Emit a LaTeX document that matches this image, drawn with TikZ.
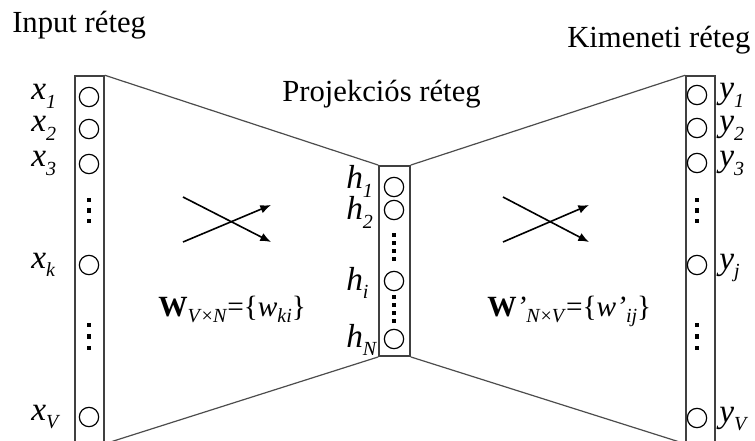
\documentclass[tikz,border=0pt]{standalone}
\usepackage{fontspec}
\setmainfont{Liberation Serif}
\usetikzlibrary{arrows.meta}

% italic label with a lowered italic index
\newcommand{\sublbl}[2]{\textit{#1}\raisebox{-0.25em}{\fontsize{15}{15}\selectfont\textit{#2}}}
\newcommand{\idx}[1]{\raisebox{-0.22em}{\fontsize{15}{15}\selectfont#1}}

\begin{document}
\begin{tikzpicture}[
  x=0.75pt, y=-0.75pt,
  layertitle/.style={font=\fontsize{23}{27}\selectfont, anchor=base west, inner sep=0pt},
  layerbox/.style={draw=black!75, line width=1.4pt, minimum width=21.5pt, inner sep=0pt},
  neuron/.style={draw, circle, line width=0.9pt, minimum size=14.5pt, inner sep=0pt},
  unitlbl/.style={font=\fontsize{25}{28}\selectfont, anchor=base west, inner sep=0pt},
  weight/.style={font=\fontsize{22}{26}\selectfont, anchor=base west, inner sep=0pt},
  layeredge/.style={black!70, line width=0.9pt},
  crossarr/.style={-{Latex[length=8pt,width=6.5pt]}, line width=1.2pt}
]
\clip (0,0) rectangle (755,441);

% Column positions: input at x=89, projection at x=394, output at x=697
\def\colin{89}
\def\colproj{394}
\def\colout{697}

% Layer titles
\node[layertitle] (tin) at (12,33) {Input réteg};
\node[layertitle] (tproj) at (282,102) {Projekciós réteg};
\node[layertitle] (tout) at (567,48) {Kimeneti réteg};

% Layer boxes (input and output run off the bottom)
\node[layerbox, minimum height=275pt] (inlayer) at (89.5,259.5) {};
\node[layerbox, minimum width=23pt, minimum height=142.5pt] (projlayer) at (394.5,261) {};
\node[layerbox, minimum height=275pt] (outlayer) at (700.5,259.5) {};

% Funnel outline between the layers
\draw[layeredge] (inlayer.north east) -- (projlayer.north west);
\draw[layeredge] (inlayer.south east) -- (projlayer.south west);
\draw[layeredge] (projlayer.north east) -- (outlayer.north west);
\draw[layeredge] (projlayer.south east) -- (outlayer.south west);

% Input units
\foreach \nm/\y in {1/97, 2/129, 3/164, k/265, V/417}{
  \node[neuron] (x\nm) at (\colin,\y) {};
  \node[unitlbl] (lx\nm) at (31,\y+3) {\sublbl{x}{\nm}};
}

% Projection units (label baseline offset varies)
\foreach \nm/\y/\dy in {1/187/2, 2/210/10, i/281/9, N/339/8}{
  \node[neuron] (h\nm) at (\colproj,\y) {};
  \node[unitlbl] (lh\nm) at (346,\y+\dy) {\sublbl{h}{\nm}};
}

% Output units
\foreach \nm/\y in {1/95, 2/128, 3/163, j/265, V/418}{
  \node[neuron] (y\nm) at (\colout,\y) {};
  \node[unitlbl] (ly\nm) at (719,\y+4) {\sublbl{y}{\nm}};
}

% Vertical dots
\foreach \y in {200, 210.5, 221, 325, 336.5, 348}{
  \fill (\colin-2.2,\y-2.2) rectangle ++(4.4,4.4);
  \fill (\colout-2.2,\y-2.2) rectangle ++(4.4,4.4);
}
\foreach \y in {235, 243, 251, 259, 297, 305, 313, 321}{
  \fill (\colproj-1.8,\y-1.8) rectangle ++(3.6,3.6);
}

% Crossing arrows
\coordinate (la1) at (183,197);
\coordinate (la2) at (271,242);
\coordinate (lb1) at (183,242);
\coordinate (lb2) at (271,205);
\coordinate (ra1) at (503,197);
\coordinate (ra2) at (589,242);
\coordinate (rb1) at (503,242);
\coordinate (rb2) at (589,205);
\draw[crossarr] (la1) -- (la2);
\draw[crossarr] (lb1) -- (lb2);
\draw[crossarr] (ra1) -- (ra2);
\draw[crossarr] (rb1) -- (rb2);

% Weight matrices
\node[weight] (win) at (158,316) {\textbf{W}\idx{\textit{V}×\textit{N}}=\{\textit{w}\idx{\textit{ki}}\}};
\node[weight] (wout) at (487,316) {\textbf{W}\textit{'}\idx{\textit{N}×\textit{V}}=\{\textit{w'}\idx{\textit{ij}}\}};

\end{tikzpicture}
\end{document}
